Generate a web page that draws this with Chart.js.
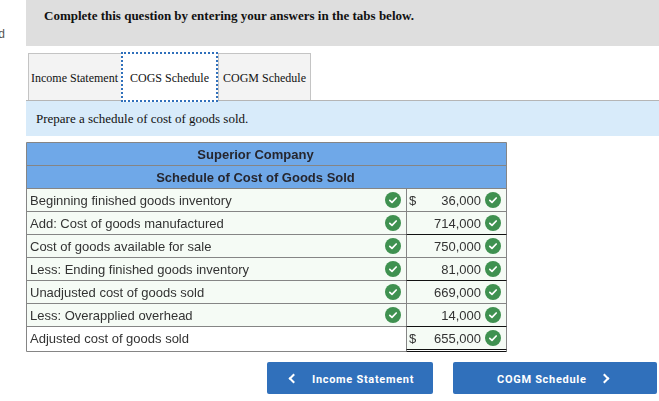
<!DOCTYPE html>
<html><head><meta charset="utf-8">
<script src="https://cdn.jsdelivr.net/npm/chart.js@4"></script>
<style>
html,body{margin:0;padding:0;background:#fff;width:659px;height:401px;overflow:hidden}
body{position:relative}
div,span,canvas{position:absolute;box-sizing:border-box;white-space:nowrap}
.serif{font-family:"Liberation Serif",serif;color:#111}
.tab{top:53px;height:47px;line-height:48px;font-size:12px;text-align:center;background:#f3f3f3;border:1px solid #c4c4c4;border-bottom:none}
.btn{top:362px;height:32px;background:#3070bb;border-radius:2px;color:#fff;font:700 11px/35px Roboto,sans-serif;letter-spacing:.7px}
.chev{top:12.5px;width:7px;height:7px;border-top:2px solid #fff;border-left:2px solid #fff}
</style></head><body>
<div style="left:0;top:27px;font:12px 'Liberation Sans',sans-serif;color:#555;width:5px;overflow:hidden;direction:rtl">d</div>
<div style="left:26px;top:0;width:633px;height:46px;background:#dedede"></div>
<div class="serif" style="left:44px;top:8px;font-size:13px;font-weight:700;line-height:15px">Complete this question by entering your answers in the tabs below.</div>
<div class="serif tab" style="left:27.5px;width:94px">Income Statement</div>
<div class="serif tab" style="left:218px;width:93px">COGM Schedule</div>
<div style="left:26px;top:100px;width:633px;height:36px;background:#d8ebfa;border-top:1px solid #b5b5b5"></div>
<div class="serif tab" style="left:121px;top:52px;width:97px;height:50px;line-height:48px;background:#fff;border:2px dotted #3070bb;z-index:2">COGS Schedule</div>
<div class="serif" style="left:36px;top:111px;font-size:13px;line-height:16px">Prepare a schedule of cost of goods sold.</div>
<canvas id="c" width="490" height="216" style="left:24px;top:140px;width:490px;height:216px"></canvas>
<div class="btn" style="left:267px;width:166px"><span class="chev" style="left:23px;transform:rotate(-45deg)"></span><span style="left:45px">Income Statement</span></div>
<div class="btn" style="left:453px;width:204px"><span style="left:44px">COGM Schedule</span><span class="chev" style="left:148px;transform:rotate(135deg)"></span></div>
<script>
const rowLabels=["Superior Company","Schedule of Cost of Goods Sold","Beginning finished goods inventory","Add: Cost of goods manufactured","Cost of goods available for sale","Less: Ending finished goods inventory","Unadjusted cost of goods sold","Less: Overapplied overhead","Adjusted cost of goods sold"];
const amounts=[null,null,36000,714000,750000,81000,669000,14000,655000];
const dollarRows=[rowLabels[2],rowLabels[8]];
const labelChecks=rowLabels.slice(2,8);
const amountChecks=rowLabels.slice(2,9);
const subtotalRules=[3,5,7];

const W=480,DIV=380;
const icon=document.createElement('canvas');icon.width=icon.height=16;
{const g=icon.getContext('2d');g.fillStyle='#3f9150';g.beginPath();g.arc(8,8,8,0,7);g.fill();
 g.strokeStyle='#fff';g.lineWidth=1.7;g.lineCap='round';g.lineJoin='round';g.beginPath();g.moveTo(4.8,8.3);g.lineTo(7,10.3);g.lineTo(11.2,6);g.stroke();}

const tablePlugin={id:'table',afterDraw(ch){
 const {ctx,chartArea:a,scales:{x,y}}=ch;
 const F="'Liberation Sans',Arial,sans-serif";
 const edge=i=>y.getPixelForValue(i)-y.getPixelForValue(0)+a.top;
 const line=(x0,x1,yy,col)=>{ctx.strokeStyle=col;ctx.lineWidth=1;ctx.beginPath();ctx.moveTo(x0,yy);ctx.lineTo(x1,yy);ctx.stroke();};
 const L=a.left,R=a.right,D=x.getPixelForValue(DIV),gray='#858585';
 for(let i=0;i<=8;i++)line(L,R,edge(i),gray);
 const B=a.bottom+2;
 line(L,D,B,gray);
 ctx.strokeStyle=gray;ctx.lineWidth=1;ctx.beginPath();
 ctx.moveTo(L,a.top);ctx.lineTo(L,B);ctx.moveTo(R,a.top);ctx.lineTo(R,B);ctx.moveTo(D,edge(2));ctx.lineTo(D,B);ctx.stroke();
 subtotalRules.forEach(i=>line(D,R,edge(i+1),'#111'));
 line(D,R,a.bottom,'#111');line(D,R,B,'#111');
 ctx.textBaseline='middle';ctx.fillStyle='#26262e';
 ctx.font='700 13px '+F;ctx.textAlign='center';
 [0,1].forEach(i=>ctx.fillText(rowLabels[i],x.getPixelForValue(W*0.5-11),y.getPixelForValue(i)+1.5));
 ctx.font='13px '+F;ctx.fillStyle='#333';
 rowLabels.forEach((t,i)=>{if(i<2)return;ctx.textAlign='left';ctx.fillText(t,x.getPixelForValue(3.5),y.getPixelForValue(i)+1.5);});
 amounts.forEach((v,i)=>{if(v==null)return;ctx.textAlign='right';ctx.fillText(v.toLocaleString('en-US'),x.getPixelForValue(454.5),y.getPixelForValue(i)+1.5);});
 ctx.textAlign='left';
 dollarRows.forEach(r=>ctx.fillText('$',x.getPixelForValue(DIV+2.5),y.getPixelForValue(r)+1.5));
}};

new Chart(document.getElementById('c'),{
 data:{labels:rowLabels,datasets:[
  {type:'bar',indexAxis:'y',order:3,grouped:false,barPercentage:1,categoryPercentage:1,
   data:rowLabels.map((_,i)=>i<2?[0,W]:null),backgroundColor:'#6fa8e8'},
  {type:'bar',indexAxis:'y',order:3,grouped:false,barPercentage:1,categoryPercentage:1,
   data:rowLabels.map((_,i)=>i<2?null:[0,DIV]),backgroundColor:rowLabels.map((_,i)=>i==8?'#ffffff':'#f5fbf5')},
  {type:'bar',indexAxis:'y',order:3,grouped:false,barPercentage:1,categoryPercentage:1,
   data:rowLabels.map((_,i)=>i<2?null:[DIV,W]),backgroundColor:'#f5fbf5'},
  {type:'scatter',order:1,data:labelChecks.map(r=>({x:366.5,y:r})),pointStyle:icon},
  {type:'scatter',order:1,data:amountChecks.map(r=>({x:466.5,y:r})),pointStyle:icon}
 ]},
 options:{responsive:false,animation:false,devicePixelRatio:1,
  layout:{autoPadding:false,padding:{left:2.5,right:7.5,top:2.5,bottom:6.5}},
  plugins:{legend:{display:false},tooltip:{enabled:false}},
  scales:{
   x:{type:'linear',min:0,max:W,display:false},
   y:{type:'category',offset:true,display:false}
  }},
 plugins:[tablePlugin]
});
</script>
</body></html>
